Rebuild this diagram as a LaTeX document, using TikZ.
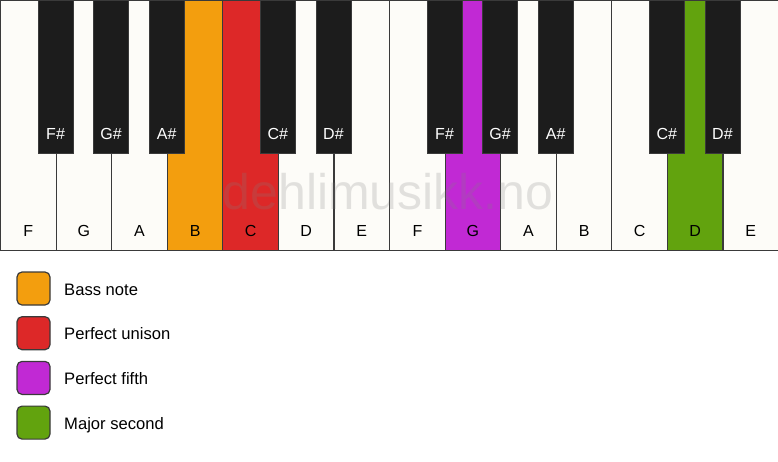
\documentclass[tikz,border=0pt]{standalone}
\usepackage{fontspec}
\setmainfont{Liberation Sans}
\usepackage{tikz}

\definecolor{keywhite}{HTML}{FDFCF8}
\definecolor{keyblack}{HTML}{1C1C1C}
\definecolor{keyline}{HTML}{3A3A3A}
\definecolor{bassorange}{HTML}{F39E0E}
\definecolor{unisonred}{HTML}{DD2828}
\definecolor{fifthpurple}{HTML}{C129D4}
\definecolor{secondgreen}{HTML}{62A30E}

\begin{document}
\begin{tikzpicture}[x=1pt, y=-1pt]
    \def\w{55.571}
    \useasboundingbox (0,0) rectangle (778,461);

    % --- DEFINE STYLES ---
    % Style for plain white keys
    \tikzstyle{whitekey} = [rectangle, draw=keyline, line width=1.2pt, fill=keywhite, anchor=north west, inner sep=0pt, minimum width=\w pt, minimum height=250pt]
    % Styles for highlighted white keys
    \tikzstyle{bass_key} = [whitekey, fill=bassorange]
    \tikzstyle{unison_key} = [whitekey, fill=unisonred]
    \tikzstyle{fifth_key} = [whitekey, fill=fifthpurple]
    \tikzstyle{second_key} = [whitekey, fill=secondgreen]
    % Style for black keys
    \tikzstyle{blackkey} = [rectangle, draw=keyline, line width=0.6pt, fill=keyblack, anchor=north, inner sep=0pt, minimum width=35pt, minimum height=153pt]
    % Style for key names
    \tikzstyle{keyname} = [inner sep=0pt, font=\fontsize{16}{18}\selectfont]
    % Style for legend boxes and texts
    \tikzstyle{legbox} = [rectangle, rounded corners=5pt, draw=keyline, line width=1.2pt, minimum size=33pt, inner sep=0pt]
    \tikzstyle{legtext} = [anchor=base west, inner sep=0pt, font=\fontsize{16.6}{19}\selectfont]

    % --- WHITE KEYS WITH CONDITIONAL STYLING ---
    \foreach \n [count=\i from 0] in {F,G,A,B,C,D,E,F,G,A,B,C,D,E} {
        \def\style{whitekey}
        \ifnum\i=3 \def\style{bass_key}\fi
        \ifnum\i=4 \def\style{unison_key}\fi
        \ifnum\i=8 \def\style{fifth_key}\fi
        \ifnum\i=12 \def\style{second_key}\fi
        \node[\style] (w\i) at (\i*\w, 0) {};
        \node[keyname, anchor=base] (wn\i) at ([yshift=15pt]w\i.south) {\n};
    }

    % --- BLACK KEYS ON THE KEY BORDERS ---
    \foreach \b/\n in {1/F\#,2/G\#,3/A\#,5/C\#,6/D\#,8/F\#,9/G\#,10/A\#,12/C\#,13/D\#} {
        \node[blackkey] (b\b) at (\b*\w, 0) {};
        \node[keyname, anchor=base, text=white] (bn\b) at ([yshift=14pt]b\b.south) {\n};
    }

    % Watermark
    \node[inner sep=0pt, text=gray, text opacity=0.22, font=\fontsize{50}{52}\selectfont] (mark) at (388, 192) {dehlimusikk.no};

    % --- LEGEND ---
    \foreach \c/\t [count=\j from 0] in {bassorange/Bass note, unisonred/Perfect unison, fifthpurple/Perfect fifth, secondgreen/Major second} {
        \node[legbox, fill=\c] (leg\j) at (33.5, 288.5+44.7*\j) {};
        \node[legtext] (legt\j) at (64, 295+44.7*\j) {\t};
    }
\end{tikzpicture}
\end{document}
